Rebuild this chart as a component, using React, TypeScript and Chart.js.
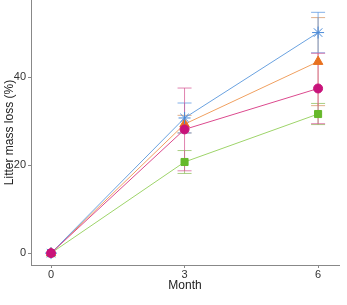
import React, { useEffect, useRef } from "react";
import { Chart, registerables } from "chart.js";

Chart.register(...registerables);

const months = [0, 3, 6];
const xTicks = [0, 3, 6];
const yTicks = [0, 20, 40];

const pinkValues = [0, 28.1, 37.4];
const pinkErr = [0, 9.4, 8.0];
const blueValues = [0, 30.7, 50.1];
const blueErr = [0, 3.4, 4.6];
const orangeValues = [0, 29.3, 43.5];
const orangeErr = [0, 2.0, 10.0];
const greenValues = [0, 20.7, 31.6];
const greenErr = [0, 2.6, 2.4];

const seriesNames = ["Series A", "Series B", "Series C", "Series D"];

const errorBarPlugin = {
  id: "errorBars",
  beforeDatasetsDraw(chart: any) {
    const ctx = chart.ctx;
    const xs = chart.scales.x;
    const ys = chart.scales.y;
    const order = [3, 2, 1, 0];
    order.forEach((di) => {
      const ds = chart.data.datasets[di];
      const errs = ds.errors as number[];
      ctx.save();
      ctx.strokeStyle = ds.errorColor;
      ctx.lineWidth = 1;
      ds.data.forEach((pt: any, i: number) => {
        const e = errs[i];
        if (!e) return;
        const x = xs.getPixelForValue(pt.x);
        const yt = ys.getPixelForValue(pt.y + e);
        const yb = ys.getPixelForValue(pt.y - e);
        const cap = 7;
        ctx.beginPath();
        ctx.moveTo(x, yt);
        ctx.lineTo(x, yb);
        ctx.moveTo(x - cap, yt);
        ctx.lineTo(x + cap, yt);
        ctx.moveTo(x - cap, yb);
        ctx.lineTo(x + cap, yb);
        ctx.stroke();
      });
      ctx.restore();
    });
  },
};

function toPoints(vals: number[]) {
  return months.map((m, i) => ({ x: m, y: vals[i] }));
}

export default function App() {
  const ref = useRef<HTMLCanvasElement | null>(null);
  useEffect(() => {
    if (!ref.current) return;
    const font = "'Liberation Sans', Arial, sans-serif";
    const chart = new Chart(ref.current, {
      type: "line",
      data: {
        datasets: [
          {
            label: seriesNames[0],
            data: toPoints(pinkValues),
            errors: pinkErr,
            errorColor: "rgba(214,90,150,0.75)",
            borderColor: "#dc4a8e",
            backgroundColor: "#c8137a",
            pointBackgroundColor: "#c8137a",
            pointBorderColor: "#c8137a",
            pointStyle: "circle",
            pointRadius: 4.5,
            borderWidth: 1,
          } as any,
          {
            label: seriesNames[1],
            data: toPoints(blueValues),
            errors: blueErr,
            errorColor: "rgba(90,150,225,0.75)",
            borderColor: "#6aa2e0",
            backgroundColor: "#4a8ad8",
            pointBackgroundColor: "#4a8ad8",
            pointBorderColor: "#4a8ad8",
            pointStyle: "star",
            pointRadius: 6,
            pointBorderWidth: 1,
            borderWidth: 1,
          } as any,
          {
            label: seriesNames[2],
            data: toPoints(orangeValues),
            errors: orangeErr,
            errorColor: "rgba(215,150,100,0.75)",
            borderColor: "#f0a060",
            backgroundColor: "#e8701e",
            pointBackgroundColor: "#e8701e",
            pointBorderColor: "#e8701e",
            pointStyle: "triangle",
            pointRadius: 5.5,
            borderWidth: 1,
          } as any,
          {
            label: seriesNames[3],
            data: toPoints(greenValues),
            errors: greenErr,
            errorColor: "rgba(140,190,90,0.75)",
            borderColor: "#9ed46a",
            backgroundColor: "#66b82a",
            pointBackgroundColor: "#66b82a",
            pointBorderColor: "#66b82a",
            pointStyle: "rect",
            pointRadius: 5,
            borderWidth: 1,
          } as any,
        ],
      },
      options: {
        animation: false,
        responsive: false,
        maintainAspectRatio: false,
        layout: { autoPadding: false, padding: { top: 0, right: 8, left: 0, bottom: 12 } },
        plugins: {
          legend: { display: false },
          tooltip: { enabled: false },
        },
        scales: {
          x: {
            type: "linear",
            min: -0.45,
            max: 6.47,
            afterBuildTicks: (s: any) => {
              s.ticks = xTicks.map((v) => ({ value: v }));
            },
            afterFit: (s: any) => {
              s.height = 28;
              s.paddingLeft = 0;
              s.paddingRight = 0;
            },
            grid: {
              display: true,
              drawOnChartArea: false,
              drawTicks: true,
              tickLength: 3,
              color: "#888",
            },
            border: { display: true, color: "#888", width: 1 },
            ticks: {
              color: "#333",
              font: { family: font, size: 11 },
              padding: 0,
              maxRotation: 0,
            },
            title: {
              display: true,
              text: "Month",
              color: "#222",
              font: { family: font, size: 12 },
              padding: { top: 0, bottom: 0 },
            },
          },
          y: {
            type: "linear",
            min: -2.7,
            max: 57.5,
            afterBuildTicks: (s: any) => {
              s.ticks = yTicks.map((v) => ({ value: v }));
            },
            afterFit: (s: any) => {
              s.width = 31;
              s.paddingTop = 0;
              s.paddingBottom = 0;
            },
            grid: {
              display: true,
              drawOnChartArea: false,
              drawTicks: true,
              tickLength: 3,
              color: "#888",
            },
            border: { display: true, color: "#888", width: 1 },
            ticks: {
              color: "#333",
              font: { family: font, size: 11 },
              padding: 2,
            },
            title: {
              display: true,
              text: "Litter mass loss (%)",
              color: "#222",
              font: { family: font, size: 12 },
              padding: { top: 2, bottom: 0 },
            },
          },
        },
      } as any,
      plugins: [errorBarPlugin],
    });
    return () => chart.destroy();
  }, []);
  return (
    <div style={{ position: "fixed", left: 0, top: 0, width: 347, height: 305, background: "#fff" }}>
      <canvas ref={ref} width={347} height={305} style={{ width: 347, height: 305 }} />
    </div>
  );
}
